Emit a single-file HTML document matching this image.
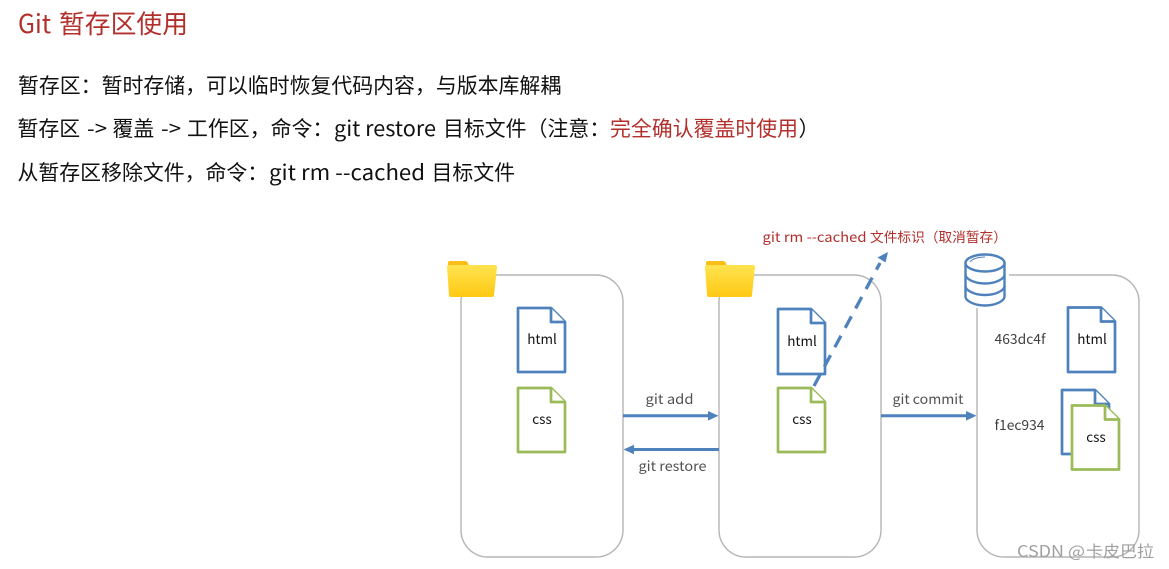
<!DOCTYPE html>
<html lang="zh">
<head>
<meta charset="utf-8">
<title>Git 暂存区使用</title>
<style>
html,body{margin:0;padding:0;background:#fff;width:1169px;height:569px;overflow:hidden}
svg{display:block}
text{font-family:"Noto Sans CJK SC","Liberation Sans",sans-serif}
</style>
</head>
<body>
<svg width="1169" height="569" viewBox="0 0 1169 569" xmlns="http://www.w3.org/2000/svg">
<defs>
<linearGradient id="fg" x1="0" y1="0" x2="0" y2="1"><stop offset="0" stop-color="#ffe34f"/><stop offset="1" stop-color="#ffc914"/></linearGradient>
<g id="folder">
<path d="M448 263q0-2 2-2h15q2 0 3 2l1 3h-21z" fill="#fbbd17"/>
<path d="M447 267q0-2 2-2h46q2 0 2 2l-3 28q0 2-2 2h-41q-2 0-2-2z" fill="url(#fg)"/>
</g>
</defs>
<rect width="1169" height="569" fill="#fff"/>

<g fill="#b22f2b" font-size="25.800">
<text x="18" y="33" textLength="33" lengthAdjust="spacingAndGlyphs">Git</text>
<text x="59" y="33">暂存区使用</text>
</g>

<g font-size="20.900" fill="#111">
<text x="18" y="93">暂存区：暂时存储，可以临时恢复代码内容，与版本库解耦</text>

<text x="17.500" y="136">暂存区</text>
<text x="87" y="136" textLength="20" lengthAdjust="spacingAndGlyphs">-&gt;</text>
<text x="112.500" y="136">覆盖</text>
<text x="161" y="136" textLength="20" lengthAdjust="spacingAndGlyphs">-&gt;</text>
<text x="187" y="136">工作区，命令：</text>
<text x="334" y="136" textLength="102" lengthAdjust="spacingAndGlyphs">git restore</text>
<text x="443" y="136">目标文件（注意：</text>
<text x="610" y="136" fill="#b22f2b">完全确认覆盖时使用</text>
<text x="798.500" y="136">）</text>

<text x="17.500" y="180">从暂存区移除文件，命令：</text>
<text x="269" y="180" textLength="156" lengthAdjust="spacingAndGlyphs">git rm --cached</text>
<text x="431.500" y="180">目标文件</text>
</g>

<g fill="none" stroke="#b5b5b5" stroke-width="1.400">
<rect x="461" y="275" width="162" height="282" rx="27"/>
<rect x="719" y="275" width="162" height="282" rx="27"/>
<rect x="977" y="275" width="162" height="282" rx="27"/>
</g>

<use href="#folder"/>
<use href="#folder" x="258"/>

<rect x="962" y="252" width="47" height="56" fill="#fff"/>
<g fill="#fff" stroke="#4f81bd" stroke-width="2.400">
<path d="M965.500 262.500v34c0 4.500 9 9 19.500 9s19.500-4.500 19.500-9v-34"/>
<ellipse cx="985" cy="263" rx="19.500" ry="8.500"/>
<path d="M965.500 274.500c0 4.500 9 9 19.500 9s19.500-4.500 19.500-9M965.500 286c0 4.500 9 9 19.500 9s19.500-4.500 19.500-9" fill="none"/>
<path d="M970 262c2-3 8-5 15-5" fill="none" stroke-width="1"/>
</g>

<g fill="#fff" stroke-width="2.700" stroke-linejoin="round">
<g stroke="#4f81bd">
<path d="M518 308h33l14 14v50h-47z"/><path d="M551 308v14h14"/>
<path d="M778 309h33l14 14v51h-47z"/><path d="M811 309v14h14"/>
<path d="M1068 307.500h33l14 14v50.500h-47z"/><path d="M1101 307.500v14h14"/>
<path d="M1062 390h33l14 14v50h-47z"/><path d="M1095 390v14h14"/>
</g>
<g stroke="#9bbb59">
<path d="M518 388h33l14 14v50h-47z"/><path d="M551 388v14h14"/>
<path d="M778 388h33l14 14v50h-47z"/><path d="M811 388v14h14"/>
<path d="M1072 405.500h33l14 14v50h-47z"/><path d="M1105 405.500v14h14"/>
</g>
</g>

<g font-size="13.500" fill="#111" text-anchor="middle">
<text x="542" y="344">html</text>
<text x="542" y="424">css</text>
<text x="802" y="346">html</text>
<text x="802" y="424">css</text>
<text x="1092" y="344">html</text>
<text x="1096" y="442">css</text>
</g>

<g stroke="#4f81bd" fill="none">
<path d="M623 415.800h87" stroke-width="3"/>
<path d="M719 449.500h-87" stroke-width="3"/>
<path d="M881 415.800h87" stroke-width="3"/>
<path d="M814 386L880 263" stroke-dasharray="13 9" stroke-width="3.300"/>
</g>
<g fill="#4f81bd">
<path d="M708 411l10.500 4.800-10.500 4.800z"/>
<path d="M634 444.700l-10.500 4.800 10.500 4.800z"/>
<path d="M966 411l10.500 4.800-10.500 4.800z"/>
<path d="M888 252l-10.500 5.500 8 5z"/>
</g>

<g font-size="13.500" fill="#505050">
<text x="645.500" y="404" textLength="48" lengthAdjust="spacingAndGlyphs">git add</text>
<text x="638.500" y="471" textLength="68" lengthAdjust="spacingAndGlyphs">git restore</text>
<text x="892.500" y="404" textLength="71" lengthAdjust="spacingAndGlyphs">git commit</text>
<text x="994.500" y="344" textLength="51" lengthAdjust="spacingAndGlyphs" fill="#404040">463dc4f</text>
<text x="994.500" y="430" textLength="50" lengthAdjust="spacingAndGlyphs" fill="#404040">f1ec934</text>
</g>
<g font-size="13.700" fill="#b22f2b">
<text x="762.500" y="242" textLength="104" lengthAdjust="spacingAndGlyphs">git rm --cached</text>
<text x="870" y="242">文件标识（取消暂存）</text>
</g>

<g font-size="16" fill="#a0a0a0">
<text x="1017" y="557" textLength="47" lengthAdjust="spacingAndGlyphs">CSDN</text>
<text x="1068" y="557" textLength="17" lengthAdjust="spacingAndGlyphs">@</text>
<text x="1086" y="557" textLength="68" lengthAdjust="spacingAndGlyphs">卡皮巴拉</text>
</g>
</svg>
</body>
</html>
